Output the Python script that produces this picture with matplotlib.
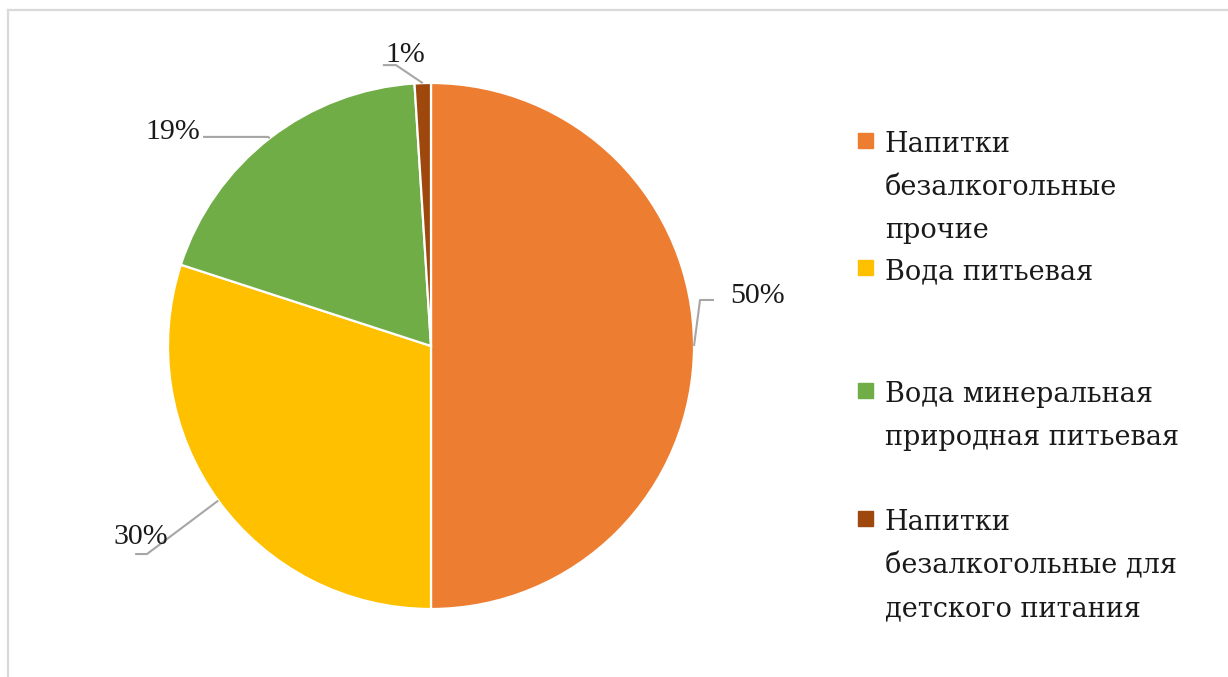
import matplotlib.pyplot as plt
from matplotlib.lines import Line2D
from matplotlib.patches import Rectangle
import numpy as np

# доли рынка по категориям, %
categories = ['Напитки\nбезалкогольные\nпрочие',
              'Вода питьевая',
              'Вода минеральная\nприродная питьевая',
              'Напитки\nбезалкогольные для\nдетского питания']
shares = [50, 30, 19, 1]
colors = ['#ED7D31', '#FFC000', '#70AD47', '#9E480E']

# подписи: центр текста, излом выноски, конец выноски (в радиусах круга)
label_pos = [(1.243, 0.190), (-1.103, -0.726), (-0.981, 0.814), (-0.099, 1.106)]
elbow_pos = [(1.023, 0.175), (-1.080, -0.791), (-0.620, 0.795), (-0.133, 1.068)]
end_pos = [(1.076, 0.175), (-1.125, -0.791), (-0.867, 0.795), (-0.183, 1.068)]

# начало строк легенды (пиксели сверху) и шаг между строками
legend_y = [152, 279, 402, 530]
line_step = 43

plt.rcParams['font.family'] = ['Liberation Serif', 'DejaVu Serif']

W, H = 1228, 677
fig = plt.figure(figsize=(W / 100, H / 100), dpi=100)
ax = fig.add_axes([0, 0, 1, 1])

R = 263  # радиус в пикселях
cx, cy = 431, 346

wedges, _ = ax.pie(shares, colors=colors, startangle=90, counterclock=False,
                   wedgeprops=dict(edgecolor='white', linewidth=1.6))

ax.set_xlim(-cx / R, (W - cx) / R)
ax.set_ylim((cy - H) / R, cy / R)
ax.set_aspect('equal')
ax.axis('off')

for w, v, lp, ep, tp in zip(wedges, shares, label_pos, elbow_pos, end_pos):
    ang = np.deg2rad((w.theta1 + w.theta2) / 2)
    ax_x, ax_y = np.cos(ang), np.sin(ang)
    ax.plot([ax_x, ep[0], tp[0]], [ax_y, ep[1], tp[1]],
            color='#A6A6A6', lw=1.5, solid_capstyle='butt')
    ax.text(lp[0], lp[1], f'{v}%', ha='center', va='center',
            fontsize=21.5, color='#1a1a1a')

# легенда
def px_to_data(px, py):
    return (px - cx) / R, (cy - py) / R

for cat, col, y0 in zip(categories, colors, legend_y):
    mx, my = px_to_data(858, y0 - 19)
    ax.add_patch(Rectangle((mx, my - 15 / R), 15 / R, 15 / R, color=col))
    for i, line in enumerate(cat.split('\n')):
        tx, ty = px_to_data(885, y0 + i * line_step)
        ax.text(tx, ty, line, ha='left', va='baseline', fontsize=19.5,
                family='DejaVu Serif', color='#1a1a1a')

# рамка области диаграммы
bx, by = 7.5 / W, 1 - 10 / H
fig.add_artist(Line2D([bx, 1], [by, by], color='#D9D9D9', lw=1.6))
fig.add_artist(Line2D([bx, bx], [0, by], color='#D9D9D9', lw=1.6))

fig.savefig('out.png', dpi=100, facecolor='white')
